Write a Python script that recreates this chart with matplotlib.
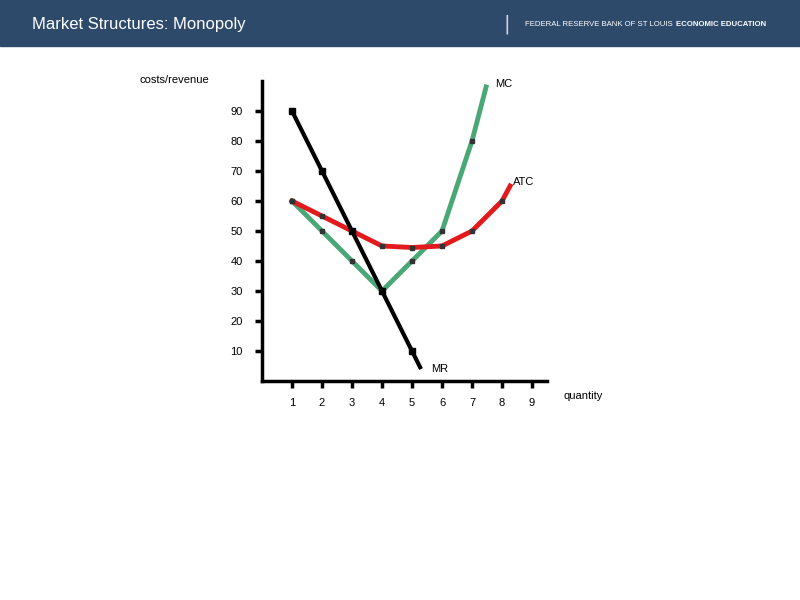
import matplotlib
matplotlib.use("Agg")
import matplotlib.pyplot as plt
from matplotlib.patches import Rectangle

mr_x = [1, 2, 3, 4, 5, 5.27]
mr_y = [90, 70, 50, 30, 10, 4.6]
mc_x = [1, 2, 3, 4, 5, 6, 7, 7.47]
mc_y = [60, 50, 40, 30, 40, 50, 80, 98]
atc_x = [1, 2, 3, 4, 5, 6, 7, 8, 8.27]
atc_y = [60, 55, 50, 45, 44.5, 45, 50, 60, 65]
xticks = [1, 2, 3, 4, 5, 6, 7, 8, 9]
yticks = [10, 20, 30, 40, 50, 60, 70, 80, 90]

fig = plt.figure(figsize=(8, 6), dpi=100)
fig.patches.append(Rectangle((0, 1 - 46/600), 1, 46/600, transform=fig.transFigure,
                             color="#2E4A6B", zorder=0))
fig.text(32/800, 1 - 24/600, "Market Structures: Monopoly", color="white", fontsize=12,
         va="center", family="Liberation Sans")
fig.text(503/800, 1 - 24/600, "|", color="#cfd6e0", fontsize=14, va="center")
fig.text(525/800, 1 - 24/600, "FEDERAL RESERVE BANK OF ST LOUIS", color="white", fontsize=5.6,
         va="center", family="Liberation Sans")
fig.text(676/800, 1 - 24/600, "ECONOMIC EDUCATION", color="white", fontsize=5.6,
         va="center", family="Liberation Sans", weight="bold")

ax = fig.add_axes([262/800, (600-381)/600, 285/800, 300/600])
ax.set_xlim(0, 9.5)
ax.set_ylim(0, 100)
for s in ["top", "right"]:
    ax.spines[s].set_visible(False)
for s in ["left", "bottom"]:
    ax.spines[s].set_linewidth(2.5)
ax.set_xticks(xticks)
ax.set_yticks(yticks)
ax.tick_params(length=5, width=2.5, labelsize=8)
ax.tick_params(axis="x", pad=7)
ax.tick_params(axis="y", pad=9)
for t in ax.get_xticklabels() + ax.get_yticklabels():
    t.set_family("Liberation Sans")

ax.plot(mc_x, mc_y, color="#4aa877", lw=3.5, zorder=2)
ax.plot(mc_x[:-1], mc_y[:-1], ls="none", marker="s", ms=3, color="#333333", zorder=4)
ax.plot(atc_x, atc_y, color="#e31a1c", lw=3.5, zorder=3)
ax.plot(atc_x[:-1], atc_y[:-1], ls="none", marker="s", ms=3, color="#333333", zorder=4)
ax.plot(mr_x, mr_y, color="black", lw=3, zorder=5)
ax.plot(mr_x[:-1], mr_y[:-1], ls="none", marker="s", ms=4, color="black", zorder=6)

fig.text(140/800, 1 - 80/600, "costs/revenue", fontsize=8, va="center", family="Liberation Sans")
fig.text(495/800, 1 - 84/600, "MC", fontsize=8, va="center", family="Liberation Sans")
fig.text(513/800, 1 - 182/600, "ATC", fontsize=8, va="center", family="Liberation Sans")
fig.text(431/800, 1 - 369/600, "MR", fontsize=8, va="center", family="Liberation Sans")
fig.text(563/800, 1 - 396/600, "quantity", fontsize=8, va="center", family="Liberation Sans")

fig.savefig("out.png")
